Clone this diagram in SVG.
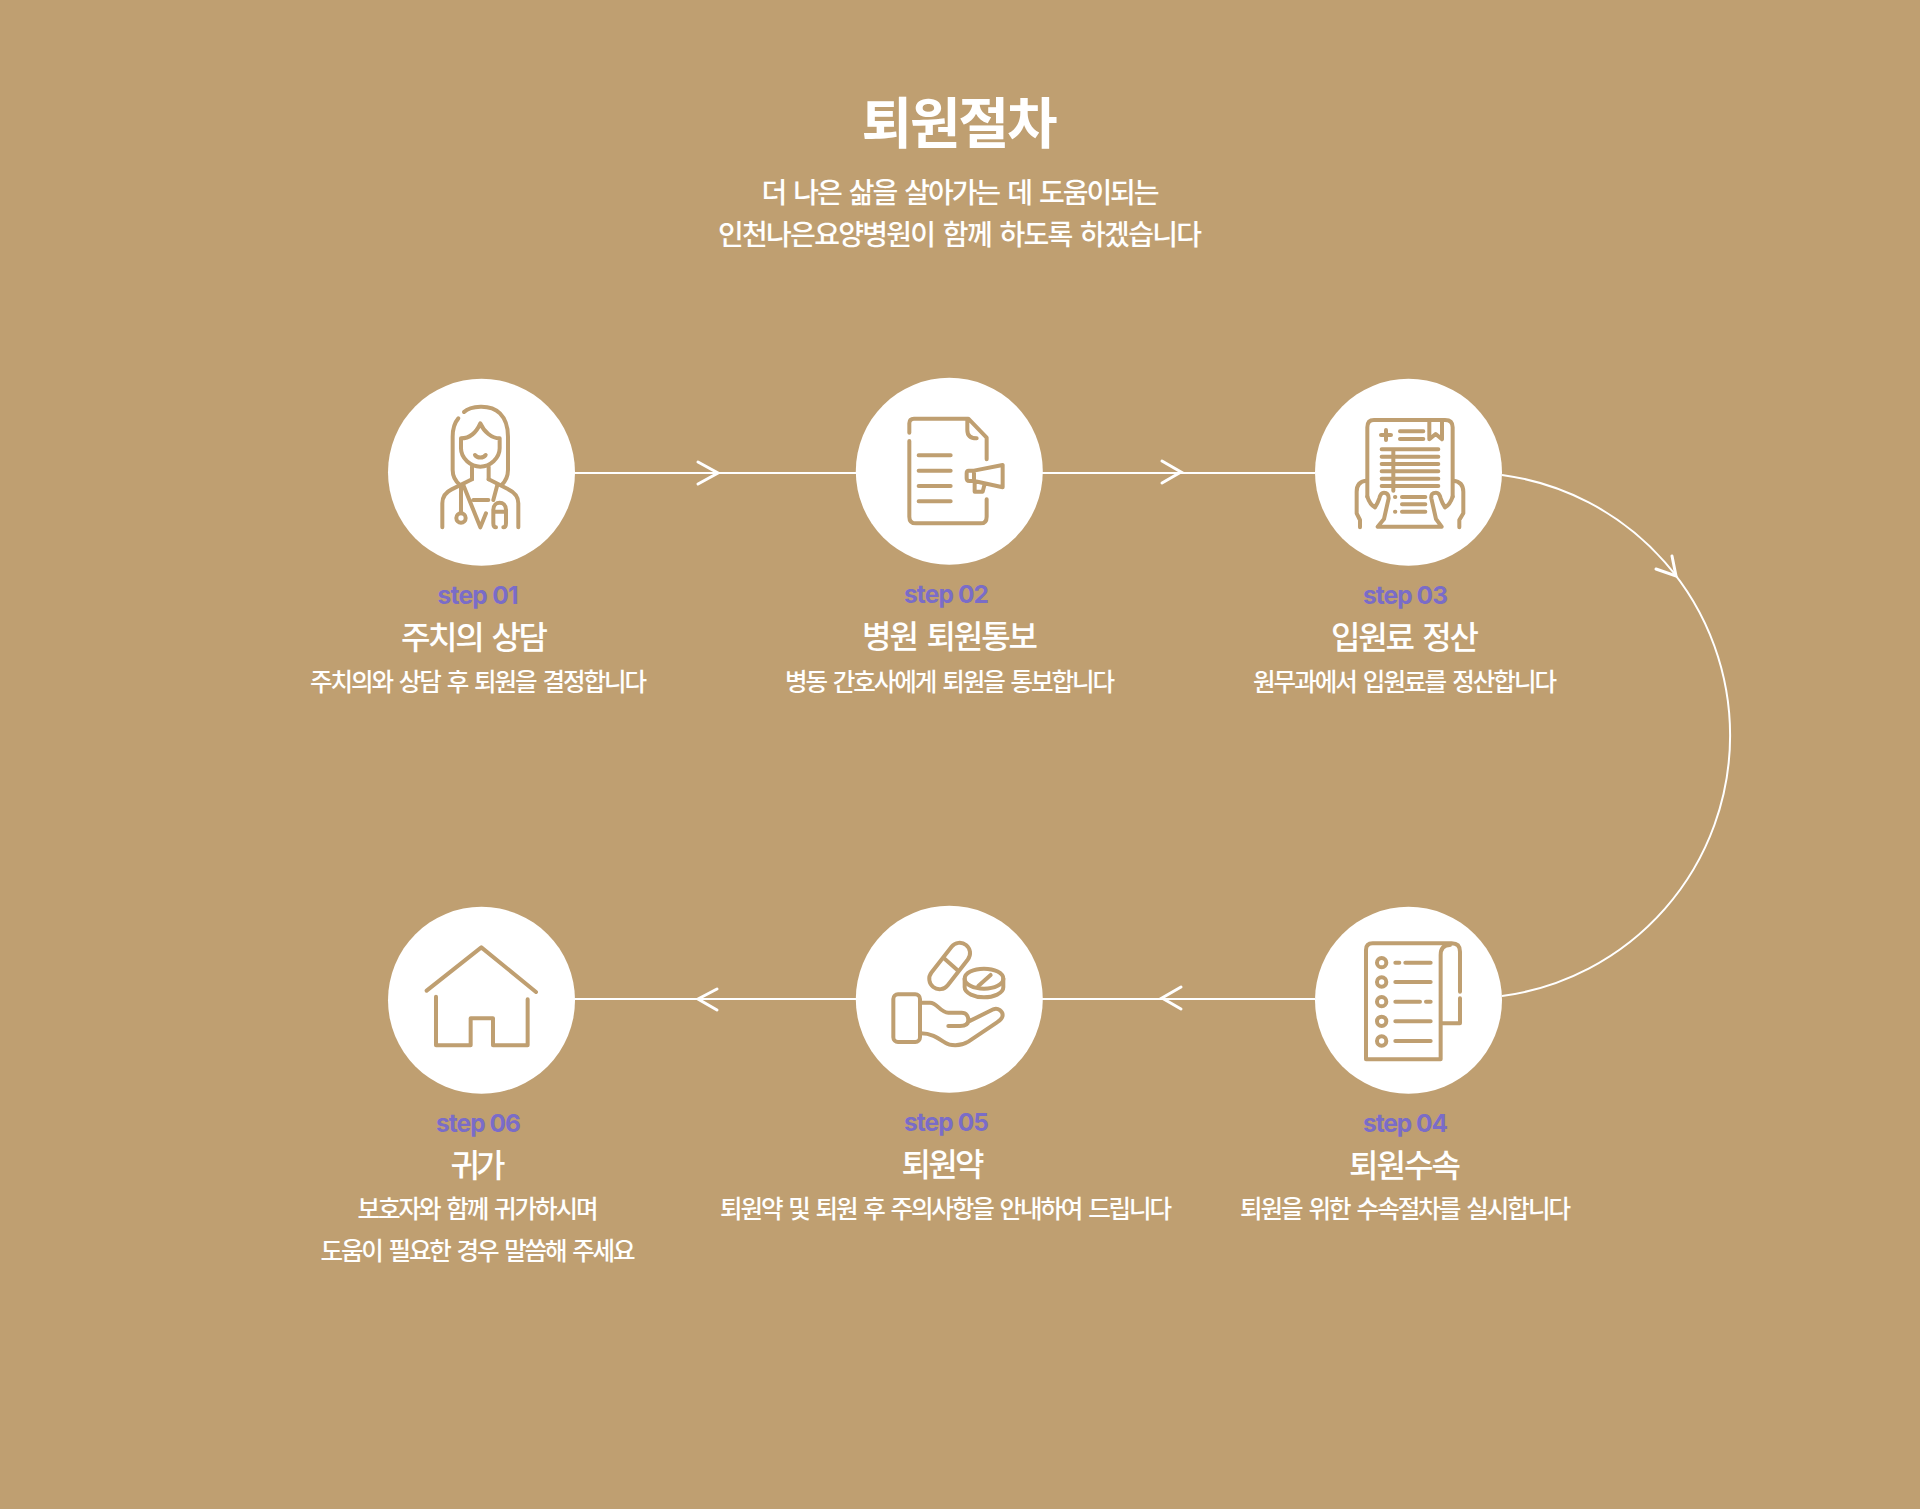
<svg xmlns="http://www.w3.org/2000/svg" width="1920" height="1509" viewBox="0 0 1920 1509">
<style>
text{text-anchor:middle;font-family:"Noto Sans CJK KR","Noto Sans",sans-serif;fill:#fff;word-spacing:.14em}
.title{font-size:55px;font-weight:600}
.sub{font-size:28px;font-weight:500}
.step{font-family:Inter,"Liberation Sans",sans-serif;font-size:24.5px;font-weight:700;fill:#7a6cc8;word-spacing:0}
.head{font-size:32px;font-weight:500}
.desc{font-size:24.5px;font-weight:500}
.ic{fill:none;stroke:#bf9f71;stroke-width:12;stroke-linecap:round;stroke-linejoin:round}
.bub{fill:#fff}
.con{fill:none;stroke:#fff;stroke-width:2}
.head2{fill:none;stroke:#fff;stroke-width:3;stroke-linecap:round;stroke-linejoin:miter}
</style>
<rect width="1920" height="1509" fill="#bf9f71"/>
<g id="heading">
<text class="title" x="959.5" y="143" textLength="196">퇴원절차</text>
<text class="sub" x="960.5" y="203" textLength="398">더 나은 삶을 살아가는 데 도움이되는</text>
<text class="sub" x="960" y="244.500" textLength="484">인천나은요양병원이 함께 하도록 하겠습니다</text>
</g>
<g id="connectors">
<path class="con" d="M574 473H856"/>
<path class="con" d="M1042 473H1315"/>
<path class="con" d="M1502 475A262.800 262.800 0 0 1 1502 996"/>
<path class="con" d="M1315 999H1042"/>
<path class="con" d="M856 999H574"/>
<path class="head2" d="M698 462L718 473L698 484"/>
<path class="head2" d="M1162 461L1181 472L1162 483"/>
<path class="head2" d="M1672 556L1676 576L1656 569"/>
<path class="head2" d="M1181 987L1162 998L1181 1009"/>
<path class="head2" d="M717 989L698 999L717 1010"/>
</g>
<g id="step1">
<circle class="bub" cx="481.5" cy="472.3" r="93.5"/>
<g transform="translate(380 370) scale(.3333)">
<path class="ic" d="M252 126C270 108 330 100 360 130C380 150 384 175 384 200V300C384 320 375 335 365 345M235 145C222 160 218 180 218 200V300C218 320 228 335 240 345"/>
<path class="ic" d="M243 205C270 205 290 185 301 160C312 185 335 205 359 205V235C359 265 330 290 301 290C272 290 243 265 243 235Z"/>
<path class="ic" d="M285 255C292 265 310 265 317 255M276 290V328M326 290V328"/>
<path class="ic" d="M187 472V400C187 375 200 365 215 358L276 328M415 472V400C415 375 400 365 385 358L326 328"/>
<path class="ic" d="M250 345L301 472L318 430M352 345L340 390M280 390H325M243 350V430"/>
<circle class="ic" cx="243" cy="444" r="14"/>
<path class="ic" d="M348 472C340 472 340 465 340 460V420C340 405 350 398 359 398C368 398 378 405 378 420V460C378 465 378 472 370 472M340 425H378"/>
</g>
<text class="step" x="478" y="604" textLength="81">step 01</text>
<text class="head" x="474.5" y="649" textLength="147">주치의 상담</text>
<text class="desc" x="478.5" y="691" textLength="337">주치의와 상담 후 퇴원을 결정합니다</text>
</g>
<g id="step2">
<circle class="bub" cx="949.3" cy="471.3" r="93.5"/>
<g transform="translate(850 370) scale(.3333)">
<path class="ic" d="M178 188V160Q178 146 192 146H355L410 203V268M178 213V440Q178 460 198 460H392Q410 460 410 440V388M352 148V180Q352 205 380 205"/>
<path class="ic" d="M206 256H302M206 302H302M206 348H302M206 394H302"/>
<path class="ic" d="M458 285V352L372 333H358Q350 333 350 325V310Q350 302 356 302H372ZM372 302V333M374 336V365H398L404 342"/>
</g>
<text class="step" x="946.5" y="603" textLength="85">step 02</text>
<text class="head" x="950" y="648" textLength="176">병원 퇴원통보</text>
<text class="desc" x="950" y="691" textLength="330">병동 간호사에게 퇴원을 통보합니다</text>
</g>
<g id="step3">
<circle class="bub" cx="1408.5" cy="472.3" r="93.5"/>
<g transform="translate(1310 370) scale(.3333)">
<path class="ic" d="M172 380V172Q172 150 192 150H405Q428 150 428 172V380"/>
<path class="ic" d="M150 472V450L140 430V365Q140 335 168 332M448 472V450L460 430V365Q460 335 430 332"/>
<path class="ic" d="M203 470L222 447L236 385Q236 368 222 368Q212 368 208 385Q203 400 195 412Q180 405 172 380M395 470L378 447L364 385Q362 368 378 368Q388 368 392 385Q397 400 405 412Q420 405 428 380M203 470H395"/>
<path class="ic" d="M358 152V208L377 192L396 208V152M228 180V210M213 195H243M270 184H340M270 207H340"/>
<path class="ic" d="M215 238H385M215 260H385M215 282H385M215 304H385M215 326H385M215 348H385M250 238V362M255 381H256M255 425H256M276 381H346M276 403H346M276 425H346"/>
</g>
<text class="step" x="1405.5" y="604" textLength="85">step 03</text>
<text class="head" x="1405" y="649" textLength="148">입원료 정산</text>
<text class="desc" x="1405" y="691" textLength="304">원무과에서 입원료를 정산합니다</text>
</g>
<g id="step4">
<circle class="bub" cx="1408.5" cy="1000.3" r="93.5"/>
<g transform="translate(1310 900) scale(.3333)">
<path class="ic" d="M168 150Q168 130 188 130H425Q450 130 450 155V275M450 295V370H392M168 150V478H392V165Q392 135 420 135"/>
<circle class="ic" cx="215" cy="188" r="14"/><circle class="ic" cx="215" cy="246" r="14"/><circle class="ic" cx="215" cy="305" r="14"/><circle class="ic" cx="215" cy="364" r="14"/><circle class="ic" cx="215" cy="423" r="14"/>
<path class="ic" d="M256 188H268M286 188H362M256 246H362M256 305H330M348 305H362M256 364H362M256 423H362"/>
</g>
<text class="step" x="1405.5" y="1132" textLength="85">step 04</text>
<text class="head" x="1405" y="1177" textLength="112">퇴원수속</text>
<text class="desc" x="1405.5" y="1218" textLength="331">퇴원을 위한 수속절차를 실시합니다</text>
</g>
<g id="step5">
<circle class="bub" cx="949.3" cy="999.3" r="93.5"/>
<g transform="translate(850 900) scale(.3333)">
<rect class="ic" x="219" y="167" width="160" height="62" rx="31" transform="rotate(-52 299 198)"/>
<path class="ic" d="M282 175L322 210"/>
<ellipse class="ic" cx="402" cy="236" rx="58" ry="30"/>
<path class="ic" d="M344 236V262C344 280 375 292 402 292C430 292 460 280 460 262V236M385 258L422 225"/>
<rect class="ic" x="130" y="283" width="80" height="143" rx="14"/>
<path class="ic" d="M212 308H240C262 308 270 338 295 338H335C350 338 355 350 355 360C355 372 345 378 330 378H295M355 365L430 328C445 322 458 335 458 345C458 355 450 362 440 368L355 425C330 440 300 438 285 428C265 415 245 400 212 400"/>
</g>
<text class="step" x="946.5" y="1131" textLength="85">step 05</text>
<text class="head" x="943" y="1176" textLength="83">퇴원약</text>
<text class="desc" x="946" y="1218" textLength="452">퇴원약 및 퇴원 후 주의사항을 안내하여 드립니다</text>
</g>
<g id="step6">
<circle class="bub" cx="481.5" cy="1000.3" r="93.5"/>
<g transform="translate(380 900) scale(.3333)">
<path class="ic" d="M140 272L304 142L468 276M168 290V436H272V355H339V436H443V298"/>
</g>
<text class="step" x="478.5" y="1132" textLength="85">step 06</text>
<text class="head" x="478" y="1177" textLength="55">귀가</text>
<text class="desc" x="478" y="1218" textLength="241">보호자와 함께 귀가하시며</text>
<text class="desc" x="478" y="1260" textLength="315">도움이 필요한 경우 말씀해 주세요</text>
</g>
</svg>
